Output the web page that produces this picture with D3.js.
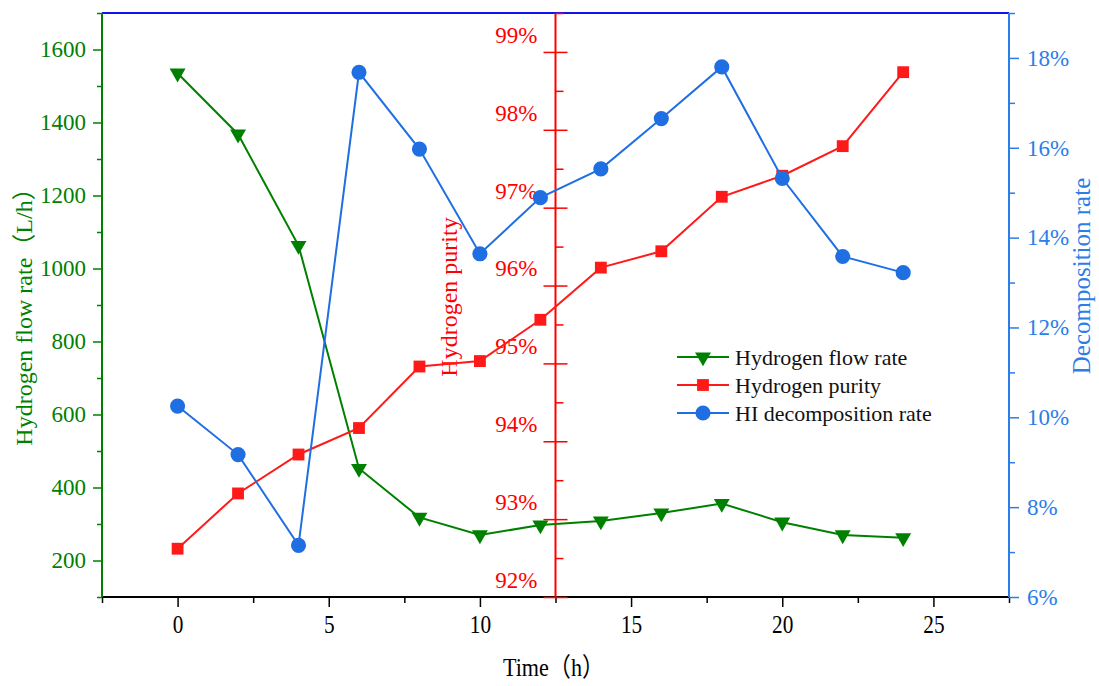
<!DOCTYPE html>
<html>
<head>
<meta charset="utf-8">
<script src="https://cdn.jsdelivr.net/npm/d3@7"></script>
<style>
  body { margin: 0; background: #fff; }
  svg text { font-family: "Liberation Serif", "Times New Roman", "Noto Sans CJK SC", serif; }
</style>
</head>
<body>
<svg id="chart" width="1099" height="686"></svg>
<script>
// time in hours
const hours = [0, 2, 4, 6, 8, 10, 12, 14, 16, 18, 20, 22, 24];
// hydrogen flow rate, L/h
const flowRate = [1535, 1368, 1063, 452, 318, 270, 297, 308, 330, 356, 305, 270, 262];
// hydrogen purity, %
const purity = [92.62, 93.33, 93.83, 94.17, 94.96, 95.03, 95.56, 96.23, 96.44, 97.14, 97.41, 97.79, 98.74];
// HI decomposition rate, %
const decomp = [10.25, 9.17, 7.15, 17.68, 15.97, 13.64, 14.89, 15.53, 16.65, 17.8, 15.32, 13.58, 13.22];

const xTicks = [0, 5, 10, 15, 20, 25];
const flowTicks = [200, 400, 600, 800, 1000, 1200, 1400, 1600];
const purityTicks = [92, 93, 94, 95, 96, 97, 98, 99];
const decompTicks = [6, 8, 10, 12, 14, 16, 18];
const legendNames = ['Hydrogen flow rate', 'Hydrogen purity', 'HI decomposition rate'];

const GREEN = '#008000';
const RED = '#ff0000';
const BLUE = '#1f6fe3';
const BLUE_AXIS = '#2b7de9';

const plotL = 102, plotR = 1009, plotT = 13, plotB = 597;

const svg = d3.select('#chart');

const x = d3.scaleLinear().domain([-2.5, 27.5]).range([plotL, plotR]);
const yFlow = d3.scaleLinear().domain([100, 1700]).range([plotB, plotT]);
const yPur = d3.scaleLinear().domain([92, 99.5]).range([plotB, plotT]);
const yDec = d3.scaleLinear().domain([6, 19]).range([plotB, plotT]);

function styleAxis(g, color, size) {
  g.select('.domain').remove();
  g.selectAll('line').attr('stroke', color).attr('stroke-width', 1.5);
  g.selectAll('text').attr('fill', color).style('font-size', size + 'px');
}

// top frame line
svg.append('line')
  .attr('x1', plotL).attr('x2', plotR).attr('y1', plotT).attr('y2', plotT)
  .attr('stroke', '#1212f0').attr('stroke-width', 2);

// x axis
const gx = svg.append('g').attr('transform', `translate(0,${plotB})`);
gx.append('g')
  .call(d3.axisBottom(x).tickValues(d3.range(-2.5, 28, 5)).tickSize(6).tickFormat(''))
  .call(g => styleAxis(g, '#000', 22));
gx.append('g')
  .call(d3.axisBottom(x).tickValues(xTicks).tickSize(10).tickPadding(8).tickFormat(d3.format('d')))
  .call(g => styleAxis(g, '#000', 26))
  .call(g => g.selectAll('text').attr('transform', 'scale(0.82,1)'));
gx.append('line').attr('x1', plotL).attr('x2', plotR)
  .attr('stroke', '#000').attr('stroke-width', 2);

const midTitle = (plotL + plotR) / 2 - 2;
svg.append('text')
  .attr('transform', `translate(${midTitle},676) scale(0.85,1)`)
  .attr('text-anchor', 'middle')
  .style('font-size', '26px')
  .text('Time（h）');

// left axis - flow rate
const gl = svg.append('g').attr('transform', `translate(${plotL},0)`);
gl.append('g')
  .call(d3.axisLeft(yFlow).tickValues(d3.range(100, 1701, 200)).tickSize(5).tickFormat(''))
  .call(g => styleAxis(g, GREEN, 22));
gl.append('g')
  .call(d3.axisLeft(yFlow).tickValues(flowTicks).tickSize(9).tickPadding(7).tickFormat(d3.format('d')))
  .call(g => styleAxis(g, GREEN, 23));
gl.append('line').attr('y1', plotT).attr('y2', plotB)
  .attr('stroke', GREEN).attr('stroke-width', 2);

svg.append('text')
  .attr('transform', 'translate(32,311) rotate(-90)')
  .attr('text-anchor', 'middle')
  .attr('fill', GREEN)
  .style('font-size', '24px')
  .text('Hydrogen flow rate（L/h）');

// right axis - decomposition rate
const gr = svg.append('g').attr('transform', `translate(${plotR},0)`);
gr.append('g')
  .call(d3.axisRight(yDec).tickValues(d3.range(7, 19.5, 2)).tickSize(6).tickFormat(''))
  .call(g => styleAxis(g, BLUE_AXIS, 22));
gr.append('g')
  .call(d3.axisRight(yDec).tickValues(decompTicks).tickSize(10).tickPadding(8).tickFormat(d => d + '%'))
  .call(g => styleAxis(g, BLUE_AXIS, 23));
gr.append('line').attr('y1', plotT).attr('y2', plotB)
  .attr('stroke', BLUE_AXIS).attr('stroke-width', 2);

svg.append('text')
  .attr('transform', 'translate(1090,276) rotate(-90)')
  .attr('text-anchor', 'middle')
  .attr('fill', BLUE_AXIS)
  .style('font-size', '25px')
  .text('Decomposition rate');

// middle axis - purity
const midX = x(12.5);
const gm = svg.append('g').attr('transform', `translate(${midX},0)`);
gm.append('g')
  .call(d3.axisRight(yPur).tickValues(d3.range(92.5, 99.6, 1)).tickSize(8).tickFormat(''))
  .call(g => styleAxis(g, RED, 22));
gm.append('g')
  .call(d3.axisRight(yPur).tickValues(purityTicks).tickSize(12).tickFormat(''))
  .call(g => styleAxis(g, RED, 22));
gm.append('g')
  .call(d3.axisLeft(yPur).tickValues(purityTicks).tickSize(12).tickPadding(6).tickFormat(d => d + '%'))
  .call(g => styleAxis(g, RED, 23))
  .call(g => g.selectAll('text').attr('dy', '-0.42em'));
gm.append('line').attr('y1', plotT).attr('y2', plotB)
  .attr('stroke', RED).attr('stroke-width', 2);

svg.append('text')
  .attr('transform', 'translate(457,297) rotate(-90)')
  .attr('text-anchor', 'middle')
  .attr('fill', RED)
  .style('font-size', '24px')
  .text('Hydrogen purity');

// markers
const triangle = d3.symbol().type(d3.symbolTriangle).size(110);
const square = d3.symbol().type(d3.symbolSquare).size(140);
const circle = d3.symbol().type(d3.symbolCircle).size(180);

const series = [
  { values: flowRate, y: yFlow, color: GREEN, sym: triangle, rot: 180 },
  { values: purity, y: yPur, color: '#ff1a1a', sym: square, rot: 0 },
  { values: decomp, y: yDec, color: BLUE, sym: circle, rot: 0 }
];

series.forEach(s => {
  const line = d3.line().x((d, i) => x(hours[i])).y(d => s.y(d));
  svg.append('path')
    .datum(s.values)
    .attr('d', line)
    .attr('fill', 'none')
    .attr('stroke', s.color)
    .attr('stroke-width', 2);
  svg.selectAll(null)
    .data(s.values)
    .enter()
    .append('path')
    .attr('d', s.sym)
    .attr('transform', (d, i) => `translate(${x(hours[i])},${s.y(d)}) rotate(${s.rot})`)
    .attr('fill', s.color);
});

// legend
const legend = svg.append('g').attr('transform', 'translate(677,357)');
const items = legend.selectAll('g')
  .data(series)
  .enter()
  .append('g')
  .attr('transform', (d, i) => `translate(0,${i * 28})`);
items.append('line')
  .attr('x1', 0).attr('x2', 52)
  .attr('stroke', d => d.color).attr('stroke-width', 2);
items.append('path')
  .attr('d', d => d.sym())
  .attr('transform', d => `translate(26,0) rotate(${d.rot})`)
  .attr('fill', d => d.color);
items.append('text')
  .attr('x', 58).attr('dy', '0.35em')
  .style('font-size', '22px')
  .attr('fill', '#111')
  .text((d, i) => legendNames[i]);
</script>
</body>
</html>
